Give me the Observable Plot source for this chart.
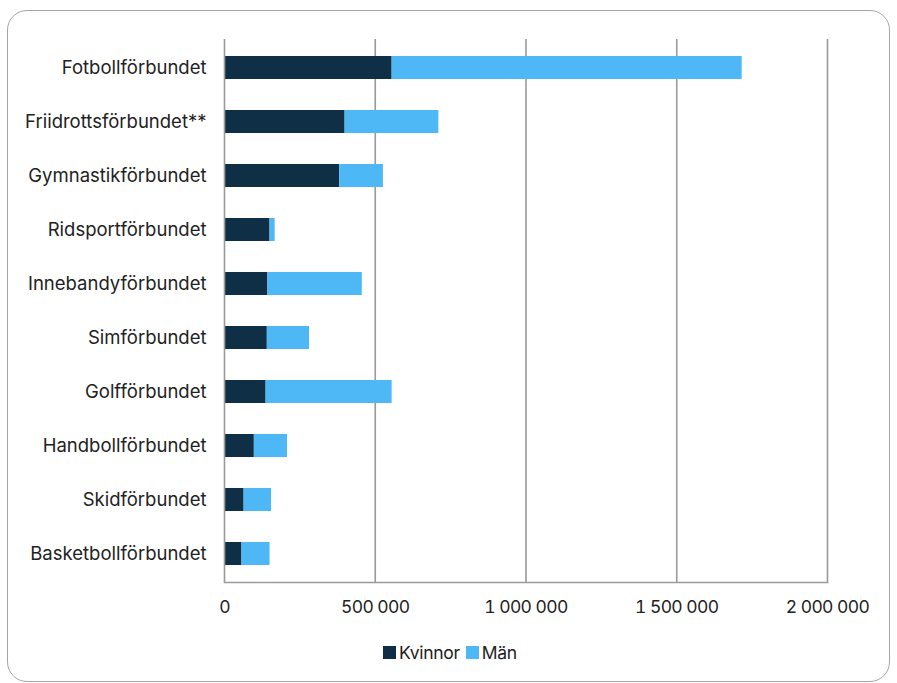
<!DOCTYPE html>
<html><head><meta charset="utf-8">
<script src="https://cdn.jsdelivr.net/npm/d3@7"></script>
<script src="https://cdn.jsdelivr.net/npm/@observablehq/plot@0.6"></script>
<style>
body{margin:0;background:#fff;font-family:Inter,"Noto Sans",sans-serif;}
#frame{position:absolute;left:7px;top:10px;width:881px;height:670px;border:1.5px solid #a6a6a6;border-radius:20px;}
#chart{position:absolute;left:0;top:0;}
#legend{position:absolute;top:642px;left:383px;display:flex;align-items:center;font-size:17.5px;color:#222;letter-spacing:-0.3px;}
#legend span.sw{display:inline-block;width:13px;height:13px;margin-right:3px;}
#legend .item{display:flex;align-items:center;margin-right:6px;}
</style></head>
<body>
<div id="frame"></div>
<div id="chart"></div>
<div id="legend"></div>
<script>
const categories = ["Fotbollförbundet","Friidrottsförbundet**","Gymnastikförbundet","Ridsportförbundet","Innebandyförbundet","Simförbundet","Golfförbundet","Handbollförbundet","Skidförbundet","Basketbollförbundet"];
const kvinnor = [556000,400000,382000,151000,144000,142000,138000,99000,65000,58000];
const man =     [1161000,311000,145000,17000,313000,140000,418000,110000,91000,93000];
const series = ["Kvinnor","Män"];
const colors = ["#0e2f45","#4eb7f6"];
const xTicks = [0,500000,1000000,1500000,2000000];

const data = [];
categories.forEach((c,i)=>{
  data.push({name:c, sex:"Kvinnor", value:kvinnor[i]});
  data.push({name:c, sex:"Män", value:man[i]});
});
const fmt = v => d3.format(",")(v).replace(/,/g," ");

const chart = Plot.plot({
  width:897, height:620,
  marginLeft:224, marginRight:70, marginTop:39, marginBottom:38,
  style:{fontFamily:"Inter, 'Noto Sans', sans-serif", fontSize:"17.5px", color:"#222", background:"transparent"},
  x:{domain:[0,2000000], ticks:xTicks, tickFormat:fmt, label:null, tickSize:0, tickPadding:18},
  y:{domain:categories, paddingInner:0.57, paddingOuter:0.285, label:null, tickSize:0, tickPadding:18},
  color:{domain:series, range:colors},
  marks:[
    Plot.gridX(xTicks.slice(1), {stroke:"#9a9a9a", strokeOpacity:1, strokeWidth:1.6}),
    Plot.barX(data, Plot.stackX({x:"value", y:"name", fill:"sex"})),
    Plot.ruleX([0], {stroke:"#9a9a9a", strokeWidth:1.6}),
    Plot.frame({anchor:"bottom", stroke:"#9a9a9a", strokeWidth:1.6})
  ]
});
chart.querySelectorAll('g[aria-label="x-axis tick label"] text').forEach(t=>{t.style.letterSpacing="-0.6px";});
chart.querySelectorAll('g[aria-label="y-axis tick label"]').forEach(g=>{g.style.fontSize="18.5px";});
document.getElementById("chart").appendChild(chart);

const leg = document.getElementById("legend");
series.forEach((s,i)=>{
  const it = document.createElement("div"); it.className="item";
  it.innerHTML = `<span class="sw" style="background:${colors[i]}"></span>${s}`;
  leg.appendChild(it);
});
</script>
</body></html>
